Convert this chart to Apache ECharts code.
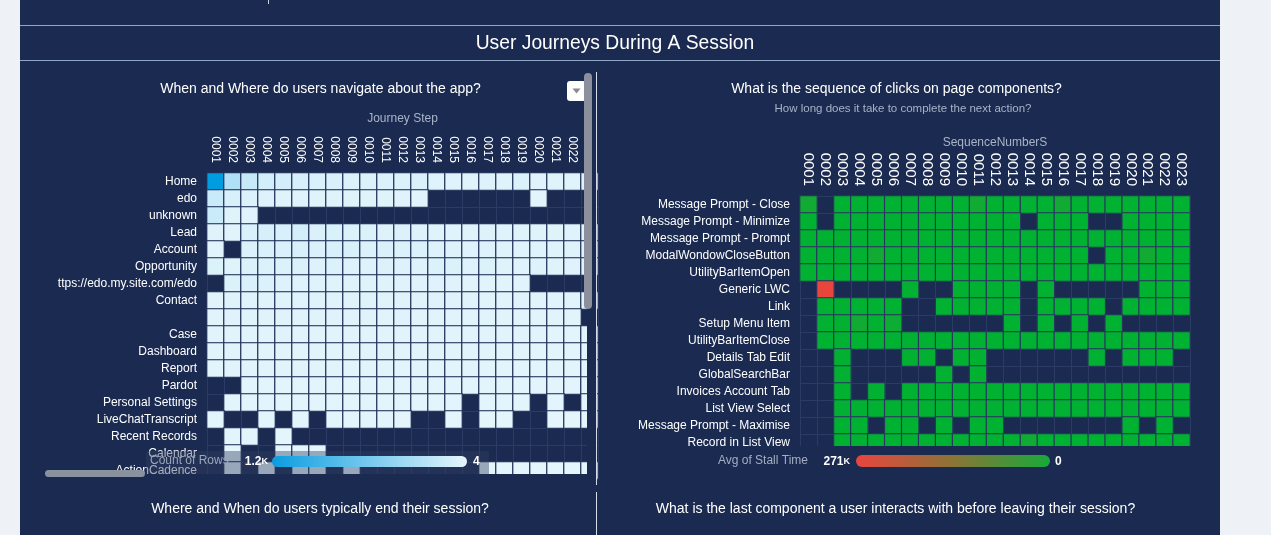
<!DOCTYPE html>
<html><head><meta charset="utf-8">
<script src="https://cdn.jsdelivr.net/npm/echarts@6/dist/echarts.min.js"></script>
<style>html,body{margin:0;padding:0;background:#eef2f6;overflow:hidden}#c{width:1271px;height:535px}</style>
</head><body><div id="c"></div><script>
const N = null;
// ---- Left heatmap: Count of Rows by page and journey step ----
const journeySteps = ['0001','0002','0003','0004','0005','0006','0007','0008','0009','0010','0011','0012','0013','0014','0015','0016','0017','0018','0019','0020','0021','0022','0023'];
const pageNames = ['Home','edo','unknown','Lead','Account','Opportunity','ttps://edo.my.site.com/edo','Contact','','Case','Dashboard','Report','Pardot','Personal Settings','LiveChatTranscript','Recent Records','Calendar','ActionCadence'];
const countHome        = [1200,280,160,100,95,80,60,55,50,48,52,45,55,35,35,30,40,30,45,25,30,28,25];
const countEdo         = [150,70,45,40,35,35,30,30,28,28,30,25,20,N,N,N,N,N,N,12,N,N,N];
const countUnknown     = [140,30,25,N,N,N,N,N,N,N,N,N,N,N,N,N,N,N,N,N,N,N,N];
const countLead        = [25,22,60,75,65,90,55,60,50,45,40,45,40,35,35,30,40,35,30,30,30,35,30];
const countAccount     = [20,N,50,60,55,70,55,65,70,50,55,50,45,40,40,35,40,35,30,35,30,30,30];
const countOpportunity = [45,30,50,45,50,45,40,50,40,40,45,40,40,50,45,40,45,30,35,40,30,25,25];
const countSite        = [N,50,55,45,40,35,35,30,30,30,30,28,25,25,25,22,20,20,18,N,N,N,N];
const countContact     = [20,28,30,32,30,35,30,30,28,30,28,26,30,25,25,28,22,24,26,20,22,20,22];
const countBlank       = [22,25,28,26,27,30,28,25,25,26,24,25,24,22,20,22,24,20,22,20,18,18,N];
const countCase        = [18,22,24,22,25,24,22,22,20,22,20,22,20,20,18,20,18,18,20,18,16,16,15];
const countDashboard   = [20,24,22,20,22,22,20,20,22,20,20,20,18,18,18,20,18,16,18,16,16,16,15];
const countReport      = [16,20,20,18,20,18,18,20,18,18,18,16,18,16,16,18,16,15,16,15,14,14,14];
const countPardot      = [N,N,15,14,15,14,15,14,14,14,13,14,13,13,12,12,12,12,12,11,11,11,10];
const countPersonal    = [N,10,12,11,12,10,11,10,10,10,9,10,9,9,8,N,8,8,8,N,7,N,7];
const countLiveChat    = [8,N,N,7,N,7,N,8,7,7,7,6,N,N,6,N,6,6,N,N,5,5,5];
const countRecent      = [N,8,7,N,6,N,N,N,N,N,N,N,N,N,N,N,N,N,N,N,N,N,N];
const countCalendar    = [N,6,N,N,5,5,5,N,N,N,N,N,N,N,N,N,N,N,N,N,N,N,N];
const countCadence     = [N,5,N,5,N,5,5,N,5,N,N,N,N,N,N,N,5,5,5,5,5,5,5];
const countRows = [countHome,countEdo,countUnknown,countLead,countAccount,countOpportunity,countSite,countContact,countBlank,countCase,countDashboard,countReport,countPardot,countPersonal,countLiveChat,countRecent,countCalendar,countCadence];

// ---- Right heatmap: Avg of Stall Time by component and sequence number ----
const sequenceNumbers = ['0001','0002','0003','0004','0005','0006','0007','0008','0009','0010','0011','0012','0013','0014','0015','0016','0017','0018','0019','0020','0021','0022','0023'];
const components = ['Message Prompt - Close','Message Prompt - Minimize','Message Prompt - Prompt','ModalWondowCloseButton','UtilityBarItemOpen','Generic LWC','Link','Setup Menu Item','UtilityBarItemClose','Details Tab Edit','GlobalSearchBar','Invoices Account Tab','List View Select','Message Prompt - Maximise','Record in List View'];
const stallClose     = [20000,N,900,800,700,900,600,800,700,500,20000,600,700,800,500,20000,600,700,800,500,600,700,400];
const stallMinimize  = [1500,N,800,700,600,900,700,800,600,500,700,600,500,N,600,700,500,N,N,600,700,500,400];
const stallPrompt    = [900,800,700,900,600,800,700,500,600,700,800,500,600,700,500,600,700,800,500,600,700,400,500];
const stallModal     = [1200,1000,900,800,20000,700,900,800,700,600,800,700,600,500,700,600,500,N,600,500,20000,500,400];
const stallUbiOpen   = [800,700,900,600,800,700,500,600,700,800,500,600,700,500,600,700,800,500,600,700,400,500,400];
const stallGeneric   = [N,271000,N,N,N,N,3000,N,N,2500,2000,2000,1500,N,2000,N,N,N,N,N,1500,1500,1000];
const stallLink      = [N,1200,1000,900,800,700,N,N,900,800,700,600,600,N,700,600,500,500,N,600,500,400,400];
const stallSetup     = [N,2000,1800,20000,1500,15000,N,N,N,N,N,N,1200,N,1000,N,900,N,800,N,N,N,N];
const stallUbiClose  = [N,900,800,700,900,600,800,700,500,600,700,800,500,600,700,500,600,700,800,500,600,700,400];
const stallDetails   = [N,N,3000,N,N,N,2500,2000,N,2000,1800,N,N,N,N,N,N,1500,N,1200,1000,900,N];
const stallSearch    = [N,N,4000,N,N,N,N,N,3000,N,2500,N,N,N,N,N,N,N,N,N,N,N,N];
const stallInvoices  = [N,N,2000,N,1800,N,1500,1400,1300,1200,1100,1000,900,900,800,800,700,700,600,600,500,500,400];
const stallListView  = [N,N,1500,1400,1300,1200,1100,1000,900,900,800,800,700,700,600,600,500,500,400,400,300,300,300];
const stallMaximise  = [N,N,1000,900,N,800,800,N,700,N,600,600,N,N,N,N,N,N,N,500,N,500,N];
const stallRecord    = [N,N,1200,1100,1000,900,900,800,800,700,700,600,600,20000,500,500,400,400,300,300,300,200,200];
const stallRows = [stallClose,stallMinimize,stallPrompt,stallModal,stallUbiOpen,stallGeneric,stallLink,stallSetup,stallUbiClose,stallDetails,stallSearch,stallInvoices,stallListView,stallMaximise,stallRecord];

function toCells(rows){
  const out=[];
  rows.forEach((r,i)=>r.forEach((v,j)=>{ if(v!==null) out.push([j,i,v]); }));
  return out;
}

const FONT='"Liberation Sans", Arial, Helvetica, sans-serif';
const NAVY='#1a2a50';
const chart = echarts.init(document.getElementById('c'), null, {renderer:'canvas'});

function txt(x,y,text,size,color,align,weight,rich){
  const st={x:x,y:y,text:text,fill:color,fontSize:size,fontFamily:FONT,fontWeight:weight||'normal',
    textAlign:align||'center',align:align||'center',textVerticalAlign:'middle',verticalAlign:'middle'};
  if(rich) st.rich=rich;
  return {type:'text', z:120, style:st};
}
function rect(x,y,w,h,fill,z,r){ return {type:'rect', z:z, shape:{x:x,y:y,width:w,height:h,r:r||0}, style:{fill:fill}}; }
function line(x1,y1,x2,y2,color,z){ return {type:'line', z:z||5, shape:{x1:x1,y1:y1,x2:x2,y2:y2}, style:{stroke:color,lineWidth:1}}; }
const smallK = {k:{fontSize:9,fontWeight:'bold',fontFamily:FONT,fill:'#ffffff'}};

const axisCommonX = {type:'category', position:'top', axisLine:{show:false}, axisTick:{show:false},
  splitLine:{show:true, lineStyle:{color:'#2c3b66', width:1}},
  axisLabel:{interval:0, rotate:90, color:'#ffffff', fontSize:12, fontFamily:FONT, margin:10},
  nameLocation:'middle', nameGap:48, nameMoveOverlap:false, nameTextStyle:{color:'#a9b4c8', fontSize:12, fontFamily:FONT}};
const axisCommonY = {type:'category', inverse:true, axisLine:{show:false}, axisTick:{show:false},
  splitLine:{show:true, lineStyle:{color:'#2c3b66', width:1}},
  axisLabel:{interval:0, color:'#ffffff', fontSize:12, fontFamily:FONT, margin:10}};

const option = {
  backgroundColor:'#eef2f6',
  animation:false,
  grid:[
    {left:207, top:173, width:391, height:306},
    {left:800, top:196, width:390, height:255}
  ],
  xAxis:[
    Object.assign({}, axisCommonX, {gridIndex:0, data:journeySteps, name:'Journey Step'}),
    Object.assign({}, axisCommonX, {gridIndex:1, data:sequenceNumbers, name:'SequenceNumberS', nameGap:47,
      axisLabel:{interval:0, rotate:90, color:'#ffffff', fontSize:15, fontFamily:FONT, margin:10}})
  ],
  yAxis:[
    Object.assign({}, axisCommonY, {gridIndex:0, data:pageNames}),
    Object.assign({}, axisCommonY, {gridIndex:1, data:components})
  ],
  visualMap:[
    {type:'continuous', show:false, seriesIndex:0, min:4, max:1200, inRange:{color:['#e4f5fc','#009ce0']}},
    {type:'continuous', show:false, seriesIndex:1, min:0, max:271000, inRange:{color:['#00b232','#e8453c']}}
  ],
  series:[
    {type:'heatmap', xAxisIndex:0, yAxisIndex:0, data:toCells(countRows),
      itemStyle:{borderColor:'#1e2d56', borderWidth:1.2}, emphasis:{disabled:true}},
    {type:'heatmap', xAxisIndex:1, yAxisIndex:1, data:toCells(stallRows),
      itemStyle:{borderColor:'#2a3560', borderWidth:1.2}, emphasis:{disabled:true}}
  ],
  graphic:{elements:[
    // panel
    Object.assign(rect(20,0,1200,535,NAVY,-10),{silent:true}),
    line(20,25.5,1220,25.5,'#8fa6c6',5),
    line(20,60.5,1220,60.5,'#8fa6c6',5),
    line(268.5,0,268.5,4,'#c8d2e0',5),
    txt(615,44,'User Journeys During A Session',19.3,'#ffffff'),
    // clipping of scroll containers
    rect(587,66,9,420,NAVY,90),
    rect(20,474,575,16,NAVY,90),
    rect(600,446,619,10,NAVY,90),
    line(596.5,72,596.5,485,'#d6dde8',95),
    line(596.5,492,596.5,535,'#d6dde8',95),
    // left panel chrome
    txt(320.5,89,'When and Where do users navigate about the app?',14,'#ffffff'),
    rect(567,81,19,20,'#ffffff',110,3),
    {type:'polygon', z:115, shape:{points:[[572.5,88.5],[580.5,88.5],[576.5,93.5]]}, style:{fill:'#8a8a8a'}},
    rect(584,73,8,236,'#8b909c',110,4),
    rect(45,470,100,7,'#8b929f',110,3.5),
    // left legend (semi-transparent overlay)
    rect(146,451,343,23,'rgba(48,62,96,0.42)',100),
    txt(150,461,'Count of Rows',12,'#9aa6ba','left'),
    txt(268,462,'1.2{k|K}',12,'#ffffff','right','bold',smallK),
    {type:'rect', z:110, shape:{x:272,y:456,width:195,height:11,r:5.5},
      style:{fill:{type:'linear',x:0,y:0,x2:1,y2:0,colorStops:[{offset:0,color:'#0a9de0'},{offset:1,color:'#e6f6fd'}]}}},
    txt(473,462,'4',12,'#ffffff','left','bold'),
    // right panel chrome
    txt(896.5,89,'What is the sequence of clicks on page components?',14,'#ffffff'),
    txt(903,109,'How long does it take to complete the next action?',11.5,'#a8b3c7'),
    txt(808,461,'Avg of Stall Time',12,'#a3aec2','right'),
    txt(850,462,'271{k|K}',12,'#ffffff','right','bold',smallK),
    {type:'rect', z:110, shape:{x:856,y:455,width:194,height:12,r:6},
      style:{fill:{type:'linear',x:0,y:0,x2:1,y2:0,colorStops:[{offset:0,color:'#e8453f'},{offset:0.5,color:'#8b7436'},{offset:1,color:'#16aa3a'}]}}},
    txt(1055,462,'0',12,'#ffffff','left','bold'),
    // next row of panels (partially visible)
    txt(320,509,'Where and When do users typically end their session?',14,'#ffffff'),
    txt(895.5,509,'What is the last component a user interacts with before leaving their session?',14,'#ffffff'),
    txt(397,541,'Journey Step',12,'#a9b4c8'),
    txt(995,541,'SequenceNumberS',12,'#a9b4c8')
  ]}
};
chart.setOption(option);
</script></body></html>
